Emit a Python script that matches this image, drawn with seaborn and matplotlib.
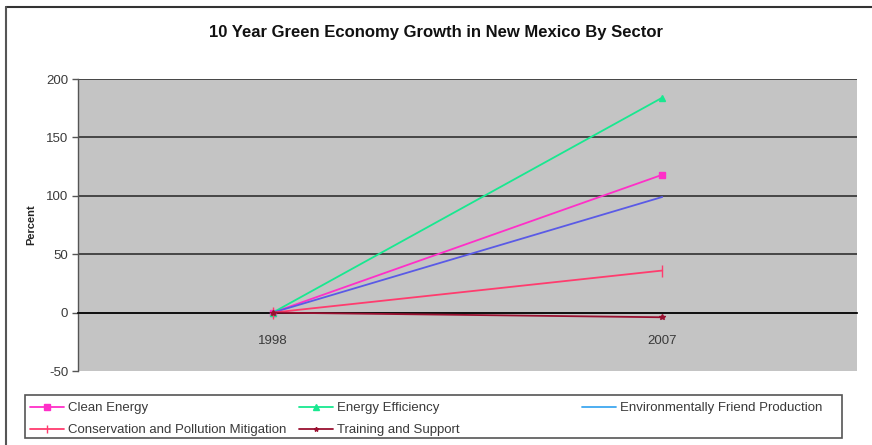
import matplotlib
matplotlib.use("Agg")
import matplotlib.pyplot as plt
import matplotlib.lines as mlines
import matplotlib.patches as mpatches
import seaborn as sns
import pandas as pd

years = ["1998", "2007"]
clean_energy = [0, 118]
energy_efficiency = [0, 184]
env_friendly = [0, 99]
conservation = [0, 36]
training = [0, -4]

series_names = ["Clean Energy", "Energy Efficiency", "Environmentally Friend Production",
                "Conservation and Pollution Mitigation", "Training and Support"]
series_values = [clean_energy, energy_efficiency, env_friendly, conservation, training]
colors = ["#FF2FC8", "#18E890", "#5A5AE6", "#FF3C6E", "#9A1030"]
markers = ["s", "^", "", "|", "*"]
msizes = [5, 5, 0, 8, 4]
legend_colors = ["#FF2FC8", "#18E890", "#3FA8F0", "#FF3C6E", "#9A1030"]

rows = []
for name, vals in zip(series_names, series_values):
    for y, v in zip(years, vals):
        rows.append({"Year": y, "Percent": v, "Series": name})
df = pd.DataFrame(rows)

sns.set_theme(style="white")
plt.rcParams["font.family"] = ["Liberation Sans", "DejaVu Sans"]

fig = plt.figure(figsize=(8.72, 4.45), dpi=100)
ax = fig.add_axes([78 / 872, 74 / 445, (857 - 78) / 872, (371 - 79) / 445])
ax.set_facecolor("#C4C4C4")

for name, c, m, ms in zip(series_names, colors, markers, msizes):
    sub = df[df["Series"] == name]
    sns.lineplot(data=sub, x="Year", y="Percent", ax=ax, color=c, lw=1.3,
                 marker=m if m else None, markersize=ms, markeredgecolor=c,
                 markeredgewidth=1.0, legend=False, zorder=4)

ax.set_xlim(-0.5, 1.5)
ax.set_ylim(-50, 200)
ax.set_yticks([-50, 0, 50, 100, 150, 200])
ax.set_yticklabels(["-50", "0", "50", "100", "150", "200"])
for yv in [50, 100, 150, 200]:
    ax.axhline(yv, color="#3C3C3C", lw=1.3, zorder=1)
ax.axhline(0, color="#111111", lw=1.3, zorder=2)

for s in ["top", "right"]:
    ax.spines[s].set_visible(False)
ax.spines["left"].set_color("#555555")
ax.spines["left"].set_linewidth(1.0)
ax.spines["bottom"].set_position(("data", 0))
ax.spines["bottom"].set_color("#111111")
ax.spines["bottom"].set_linewidth(1.3)

ax.tick_params(axis="y", direction="out", length=4, width=1, color="#555555",
               labelsize=9.5, labelcolor="#3A3A3A", pad=3, left=True)
ax.tick_params(axis="x", length=0, labelsize=9.5, labelcolor="#3A3A3A", pad=16)
ax.set_xlabel("")
ax.set_ylabel("Percent", fontsize=8, fontweight="bold", labelpad=7)

fig.text(436 / 872, 1 - 32 / 445, "10 Year Green Economy Growth in New Mexico By Sector",
         ha="center", va="center", fontsize=12, fontweight="bold", color="#111111")

handles = []
for name, c, m, ms in zip(series_names, legend_colors, markers, msizes):
    handles.append(mlines.Line2D([], [], color=c, lw=1.3, marker=m if m else None,
                                 markersize=ms * 0.8, markeredgecolor=c, label=name))

# legend frame
fig.add_artist(mpatches.Rectangle((25 / 872, 1 - 438 / 445), (842 - 25) / 872, (438 - 395) / 445,
                                  transform=fig.transFigure, fill=False,
                                  edgecolor="#555555", lw=1.2))
columns = [[0, 3], [1, 4], [2]]
col_x = [30, 299, 582]
for idx, xpx in zip(columns, col_x):
    lg = fig.legend([handles[i] for i in idx], [series_names[i] for i in idx],
                    loc="upper left", bbox_to_anchor=(xpx / 872, 1 - 402 / 445),
                    fontsize=9.5, frameon=False, handlelength=2.6, handletextpad=0.3,
                    borderaxespad=0, borderpad=0, labelspacing=0.75)
    for t in lg.get_texts():
        t.set_color("#3A3A3A")

fig.add_artist(mlines.Line2D([6 / 872, 1], [1 - 7 / 445, 1 - 7 / 445],
                             transform=fig.transFigure, color="#333333", lw=1.5))
fig.add_artist(mlines.Line2D([6 / 872, 6 / 872], [0, 1 - 7 / 445],
                             transform=fig.transFigure, color="#555555", lw=1.5))

fig.savefig("out.png", dpi=100, facecolor="white")
